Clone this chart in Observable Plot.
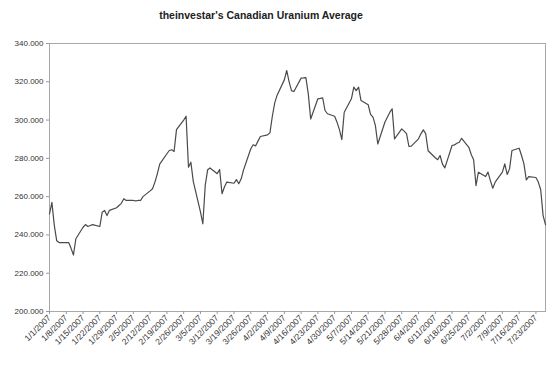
<!DOCTYPE html>
<html><head><meta charset="utf-8">
<script src="https://cdn.jsdelivr.net/npm/d3@7"></script>
<script src="https://cdn.jsdelivr.net/npm/@observablehq/plot@0.6"></script>
<style>
body{margin:0;background:#fff;font-family:"Liberation Sans",Arial,sans-serif}
#wrap{position:relative;width:560px;height:365px}
#title{position:absolute;left:0;top:9px;width:522px;text-align:center;font-weight:bold;font-size:10.5px;color:#222;z-index:2}
</style></head><body>
<div id="wrap"><div id="title">theinvestar's Canadian Uranium Average</div><div id="chart"></div></div>
<script>
const dates = ["2007-01-01","2007-01-02","2007-01-03","2007-01-04","2007-01-05",
"2007-01-08","2007-01-09","2007-01-10","2007-01-11","2007-01-12",
"2007-01-15","2007-01-16","2007-01-17","2007-01-18","2007-01-19",
"2007-01-22","2007-01-23","2007-01-24","2007-01-25","2007-01-26",
"2007-01-29","2007-01-30","2007-01-31","2007-02-01","2007-02-02",
"2007-02-05","2007-02-06","2007-02-07","2007-02-08","2007-02-09",
"2007-02-12","2007-02-13","2007-02-14","2007-02-15","2007-02-16",
"2007-02-19","2007-02-20","2007-02-21","2007-02-22","2007-02-23",
"2007-02-26","2007-02-27","2007-02-28","2007-03-01","2007-03-02",
"2007-03-05","2007-03-06","2007-03-07","2007-03-08","2007-03-09",
"2007-03-12","2007-03-13","2007-03-14","2007-03-15","2007-03-16",
"2007-03-19","2007-03-20","2007-03-21","2007-03-22","2007-03-23",
"2007-03-26","2007-03-27","2007-03-28","2007-03-29","2007-03-30",
"2007-04-02","2007-04-03","2007-04-04","2007-04-05","2007-04-06",
"2007-04-09","2007-04-10","2007-04-11","2007-04-12","2007-04-13",
"2007-04-16","2007-04-17","2007-04-18","2007-04-19","2007-04-20",
"2007-04-23","2007-04-24","2007-04-25","2007-04-26","2007-04-27",
"2007-04-30","2007-05-01","2007-05-02","2007-05-03","2007-05-04",
"2007-05-07","2007-05-08","2007-05-09","2007-05-10","2007-05-11",
"2007-05-14","2007-05-15","2007-05-16","2007-05-17","2007-05-18",
"2007-05-21","2007-05-22","2007-05-23","2007-05-24","2007-05-25",
"2007-05-28","2007-05-29","2007-05-30","2007-05-31","2007-06-01",
"2007-06-04","2007-06-05","2007-06-06","2007-06-07","2007-06-08",
"2007-06-11","2007-06-12","2007-06-13","2007-06-14","2007-06-15",
"2007-06-18","2007-06-19","2007-06-20","2007-06-21","2007-06-22",
"2007-06-25","2007-06-26","2007-06-27","2007-06-28","2007-06-29",
"2007-07-02","2007-07-03","2007-07-04","2007-07-05","2007-07-06",
"2007-07-09","2007-07-10","2007-07-11","2007-07-12","2007-07-13",
"2007-07-16","2007-07-17","2007-07-18","2007-07-19","2007-07-20",
"2007-07-23","2007-07-24","2007-07-25","2007-07-26","2007-07-27"];
const values = [251,257,245,237,236,
236,236,233,229.5,238,
244,245.4,244.4,244.9,245.4,
244.4,251.9,252.8,250.1,252.8,
254.2,255.4,256.5,258.9,258,
258,257.8,258,258,260,
263,264.1,267.6,271.9,277,
282.4,284.1,284.5,283.6,295,
300,302,275.4,278,268,
252,245.8,266,274,275,
272,274.2,261.5,265,267.6,
267,268.9,266.7,269.3,274,
285,287.1,286.5,289,291.4,
292.3,293.3,302,309,313,
321,325.9,320,315.4,314.9,
321.9,322,322.2,313.7,300.6,
311.1,311.3,311.6,305,303.3,
302,298.9,295,289.8,304.1,
311.1,317.2,315.4,317.2,310.2,
308,303,301.5,297.2,287.5,
299,301.5,304,305.9,290.2,
295.4,294.2,292.9,286.2,286.4,
290.2,292.8,294.9,292.9,284,
280.3,279.3,281.5,277,275,
286.7,287,287.9,288.4,290.5,
285.8,282,279.3,265.8,272.8,
270.5,272.8,268.4,264.4,267.6,
272.8,277.1,271.6,274.5,284.1,
285.3,281.5,277.1,268.7,270.5,
270,267.6,263.6,250.1,245.4];
const xTickLabels = ["1/1/2007","1/8/2007","1/15/2007","1/22/2007","1/29/2007","2/5/2007","2/12/2007","2/19/2007","2/26/2007","3/5/2007","3/12/2007","3/19/2007","3/26/2007","4/2/2007","4/9/2007","4/16/2007","4/23/2007","4/30/2007","5/7/2007","5/14/2007","5/21/2007","5/28/2007","6/4/2007","6/11/2007","6/18/2007","6/25/2007","7/2/2007","7/9/2007","7/16/2007","7/23/2007"];
const yTicks = [200,220,240,260,280,300,320,340];

const parseISO = d3.utcParse("%Y-%m-%d");
const parseMDY = d3.utcParse("%m/%d/%Y");
const data = dates.map((d, i) => ({date: parseISO(d), value: values[i]}));
const xTicks = xTickLabels.map(parseMDY);
const fmtX = d => `${d.getUTCMonth() + 1}/${d.getUTCDate()}/${d.getUTCFullYear()}`;
const fmtY = d3.format(".3f");

const chart = Plot.plot({
  width: 560, height: 365,
  marginTop: 43, marginBottom: 54, marginLeft: 49, marginRight: 15,
  style: {fontFamily: '"Liberation Sans", Arial, sans-serif', fontSize: "8.5px", color: "#333", background: "white"},
  x: {type: "utc", domain: [parseISO(dates[0]), parseISO(dates[dates.length - 1])]},
  y: {domain: [200, 340]},
  marks: [
    Plot.frame({stroke: "#a8a8a8", strokeWidth: 1}),
    Plot.axisY({ticks: yTicks, tickFormat: fmtY, tickSize: 3, tickPadding: 3, stroke: "#999", label: null, fontSize: 8}),
    Plot.axisX({ticks: xTicks, tickFormat: fmtX, tickSize: 3, tickPadding: 2, tickRotate: -45, stroke: "#999", label: null}),
    Plot.line(data, {x: "date", y: "value", stroke: "#4a4a4a", strokeWidth: 1.2})
  ]
});
document.getElementById("chart").appendChild(chart);
</script>
</body></html>
